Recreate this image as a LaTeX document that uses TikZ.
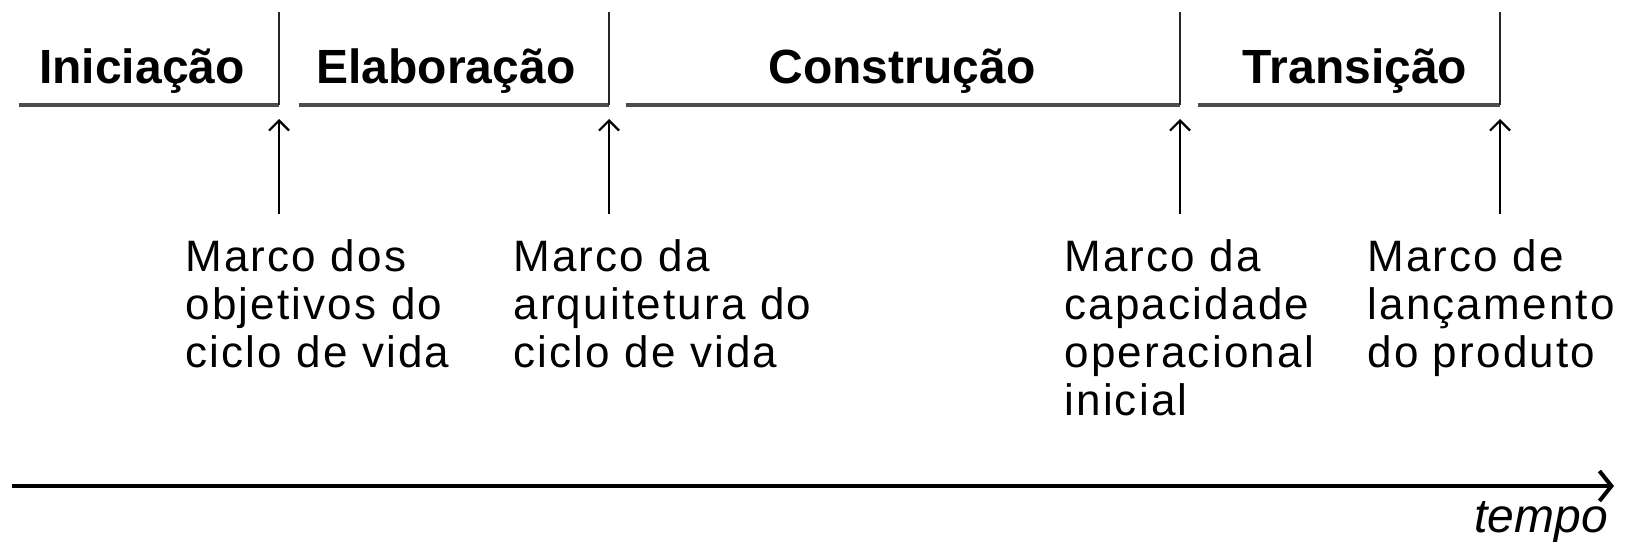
\documentclass[tikz,border=0pt]{standalone}
\usepackage{fontspec}
\setmainfont{Liberation Sans}
\usetikzlibrary{arrows.meta,positioning}
\begin{document}
\begin{tikzpicture}[
        x=0.5pt, y=-0.5pt,
        phase/.style={anchor=base, inner sep=0pt, font=\fontsize{24}{28}\selectfont\bfseries},
        milestone/.style={anchor=north west, inner sep=0pt, align=left, font=\fontsize{22}{24}\selectfont\addfontfeatures{LetterSpace=5}},
        phaseline/.style={line width=2pt, black!70},
        divider/.style={line width=1pt, black!85},
        arrow/.style={-{Straight Barb[length=5pt,width=10pt]}, line width=1.1pt},
        timeline/.style={-{Straight Barb[length=6pt,width=15pt]}, line width=2pt}
    ]
    \useasboundingbox (0,0) rectangle (1633,546);

    % phase boundaries and milestone arrows
    \foreach \x [count=\i] in {279,609,1180,1500} {
        \coordinate (top\i) at (\x,12);
        \coordinate (end\i) at (\x,105);
        \coordinate (tip\i) at (\x,119);
        \coordinate (tail\i) at (\x,214);
    }
    \foreach \x [count=\i] in {19,299,626,1198} {
        \coordinate (start\i) at (\x,105);
    }

    % phases
    \node[phase] (iniciacao) at (142,83) {Iniciação};
    \node[phase] (elaboracao) at (446,83) {Elaboração};
    \node[phase] (construcao) at (902,83) {Construção};
    \node[phase] (transicao) at (1355,83) {Transição};

    \foreach \i in {1,...,4} {
        \draw[phaseline] (start\i) -- (end\i);
        \draw[divider] (end\i) -- (top\i);
        \draw[arrow] (tail\i) -- (tip\i);
    }

    % milestones
    \node[milestone] (objetivos) at (185,239) {Marco dos\\objetivos do\\ciclo de vida};
    \node[milestone] (arquitetura) at (513,239) {Marco da\\arquitetura do\\ciclo de vida};
    \node[milestone] (capacidade) at (1064,239) {Marco da\\capacidade\\operacional\\inicial};
    \node[milestone] (lancamento) at (1367,239) {Marco de\\lançamento\\do produto};

    % time axis
    \coordinate (t0) at (12,486);
    \coordinate (t1) at (1614,486);
    \draw[timeline] (t0) -- (t1);
    \node[font=\fontsize{24}{28}\selectfont\itshape, inner sep=0pt] (tempo) at (1541,522) {tempo};
\end{tikzpicture}
\end{document}
